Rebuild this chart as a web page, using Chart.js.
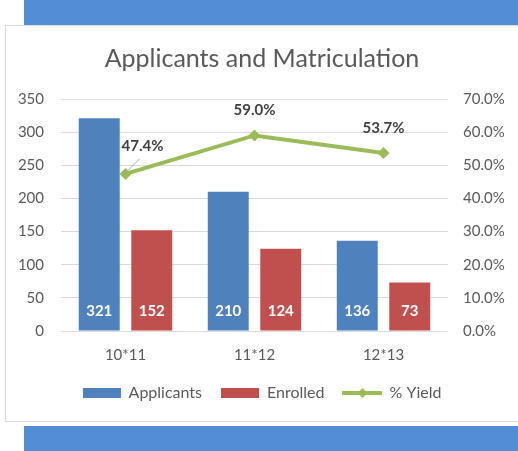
<!DOCTYPE html>
<html>
<head>
<meta charset="utf-8">
<script src="https://cdn.jsdelivr.net/npm/chart.js@4"></script>
<style>
  html, body { margin: 0; padding: 0; background: #fff; overflow: hidden; }
  body { width: 518px; height: 451px; position: relative; }
  .band { position: absolute; left: 24px; width: 500px; background: #538dd5; }
  #top-band { top: 0; height: 25px; }
  #bottom-band { top: 426px; height: 25px; }
  #box { position: absolute; left: 5px; top: 25px; width: 520px; height: 395px; border: 1px solid #d9d9d9; background: #fff; }
  #chart-wrap { position: absolute; left: 0; top: 0; width: 512px; height: 395px; }
</style>
</head>
<body>
<div class="band" id="top-band"></div>
<div id="box">
  <div id="chart-wrap"><canvas id="chart"></canvas></div>
</div>
<div class="band" id="bottom-band"></div>
<script>
const years = ['10*11', '11*12', '12*13'];
const applicants = [321, 210, 136];
const enrolled = [152, 124, 73];
const yieldPct = [47.4, 59.0, 53.7];
const countTicks = [0, 50, 100, 150, 200, 250, 300, 350];
const pctTicks = [0, 10, 20, 30, 40, 50, 60, 70];

const BLUE = '#4f81bd';
const RED = '#c0504d';
const GREEN = '#9bbb59';
const GREY_TEXT = '#595959';
const FONT = 'Lato, "Open Sans", sans-serif';

// little canvases used as legend symbols
function boxSymbol(color) {
    const c = document.createElement('canvas');
    c.width = 38; c.height = 10;
    const g = c.getContext('2d');
    g.fillStyle = color;
    g.fillRect(0, 0, 38, 10);
    return c;
}
function lineSymbol(color) {
    const c = document.createElement('canvas');
    c.width = 40; c.height = 12;
    const g = c.getContext('2d');
    g.strokeStyle = color;
    g.lineWidth = 4;
    g.beginPath();
    g.moveTo(0, 6); g.lineTo(40, 6);
    g.stroke();
    g.fillStyle = color;
    g.beginPath();
    g.moveTo(20, 1); g.lineTo(25, 6); g.lineTo(20, 11); g.lineTo(15, 6);
    g.closePath();
    g.fill();
    return c;
}
const symbols = [boxSymbol(BLUE), boxSymbol(RED), lineSymbol(GREEN)];

// value labels: white numbers at the bar bases, percentages above the line
const valueLabels = {
    id: 'valueLabels',
    afterDatasetsDraw(chart) {
        const ctx = chart.ctx;
        ctx.save();
        ctx.textAlign = 'center';
        ctx.textBaseline = 'middle';
        ctx.font = 'bold 15px ' + FONT;
        [0, 1].forEach(di => {
            const meta = chart.getDatasetMeta(di);
            meta.data.forEach((bar, i) => {
                ctx.fillStyle = '#ffffff';
                ctx.fillText(chart.data.datasets[di].data[i], bar.x, bar.base - 19);
            });
        });
        const lineMeta = chart.getDatasetMeta(2);
        lineMeta.data.forEach((pt, i) => {
            const text = chart.data.datasets[2].data[i].toFixed(1) + '%';
            let lx = pt.x, ly = pt.y - 25;
            if (i === 0) {
                lx = pt.x + 17; ly = pt.y - 28;
                ctx.strokeStyle = '#a6a6a6';
                ctx.lineWidth = 1;
                ctx.beginPath();
                ctx.moveTo(pt.x + 1, pt.y - 2);
                ctx.lineTo(pt.x + 14, pt.y - 15);
                ctx.stroke();
            }
            ctx.fillStyle = '#404040';
            ctx.fillText(text, lx, ly);
        });
        ctx.restore();
    }
};

new Chart(document.getElementById('chart'), {
    data: {
        labels: years,
        datasets: [
            {
                type: 'bar', label: 'Applicants', data: applicants, backgroundColor: BLUE,
                yAxisID: 'y', order: 2, barPercentage: 0.78, categoryPercentage: 0.814
            },
            {
                type: 'bar', label: 'Enrolled', data: enrolled, backgroundColor: RED,
                yAxisID: 'y', order: 2, barPercentage: 0.78, categoryPercentage: 0.814
            },
            {
                type: 'line', label: '% Yield', data: yieldPct, borderColor: GREEN, backgroundColor: GREEN,
                borderWidth: 4, pointStyle: 'rectRot', pointRadius: 6, pointBorderWidth: 0,
                yAxisID: 'y1', order: 1, tension: 0
            }
        ]
    },
    options: {
        responsive: true,
        maintainAspectRatio: false,
        animation: false,
        layout: { padding: { left: 0, right: 0, top: 0, bottom: 10 } },
        plugins: {
            title: {
                display: true,
                text: 'Applicants and Matriculation',
                color: GREY_TEXT,
                font: { family: FONT, size: 25, weight: 'normal' },
                padding: { top: 18, bottom: 25 }
            },
            legend: {
                position: 'bottom',
                labels: {
                    color: GREY_TEXT,
                    font: { family: FONT, size: 16 },
                    usePointStyle: true,
                    pointStyleWidth: 38,
                    padding: 19,
                    generateLabels(chart) {
                        return chart.data.datasets.map((ds, i) => ({
                            text: ds.label,
                            fillStyle: ds.backgroundColor,
                            strokeStyle: ds.backgroundColor,
                            lineWidth: 0,
                            pointStyle: symbols[i],
                            datasetIndex: i,
                            fontColor: GREY_TEXT
                        }));
                    }
                }
            },
            tooltip: { enabled: false }
        },
        scales: {
            x: {
                grid: { display: false, drawTicks: false },
                border: { display: false },
                afterFit(axis) { axis.height = 35; },
                ticks: { color: GREY_TEXT, font: { family: FONT, size: 15 }, padding: 15 }
            },
            y: {
                position: 'left',
                min: 0, max: 350,
                afterBuildTicks(axis) { axis.ticks = countTicks.map(v => ({ value: v })); },
                afterFit(axis) { axis.width = 55; },
                grid: { color: '#d9d9d9', drawTicks: false },
                border: { display: false },
                ticks: { color: GREY_TEXT, font: { family: FONT, size: 15 }, padding: 17 }
            },
            y1: {
                position: 'right',
                min: 0, max: 70,
                afterBuildTicks(axis) { axis.ticks = pctTicks.map(v => ({ value: v })); },
                afterFit(axis) { axis.width = 70; },
                grid: { display: false, drawTicks: false },
                border: { display: false },
                ticks: {
                    color: GREY_TEXT, font: { family: FONT, size: 15 }, padding: 15,
                    callback: v => v.toFixed(1) + '%'
                }
            }
        }
    },
    plugins: [valueLabels]
});
</script>
</body>
</html>
